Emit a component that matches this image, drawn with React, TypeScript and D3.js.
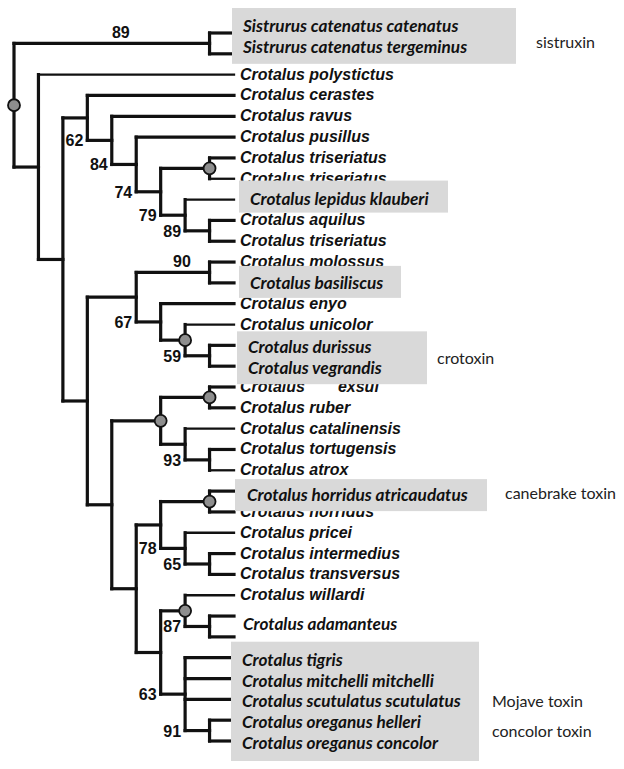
import React from "react";
import * as d3 from "d3";

// ---------- data ----------
const leafNames: (string | null)[] = [
  "Sistrurus catenatus catenatus", "Sistrurus catenatus tergeminus", "Crotalus polystictus",
  "Crotalus cerastes", "Crotalus ravus", "Crotalus pusillus", "Crotalus triseriatus",
  "Crotalus triseriatus", "Crotalus lepidus klauberi", "Crotalus aquilus", "Crotalus triseriatus",
  "Crotalus molossus", "Crotalus basiliscus", "Crotalus enyo", "Crotalus unicolor",
  "Crotalus durissus", "Crotalus vegrandis", "Crotalus exsul", "Crotalus ruber",
  "Crotalus catalinensis", "Crotalus tortugensis", "Crotalus atrox",
  "Crotalus horridus atricaudatus", "Crotalus horridus", "Crotalus pricei",
  "Crotalus intermedius", "Crotalus transversus", "Crotalus willardi", "Crotalus adamanteus", null,
  "Crotalus tigris", "Crotalus mitchelli mitchelli", "Crotalus scutulatus scutulatus",
  "Crotalus oreganus helleri", "Crotalus oreganus concolor",
];
const leafParent = [
  "S", "S", "A", "C", "D", "E", "G", "G", "H", "I", "I", "P", "P", "Q", "R", "Rs", "Rs",
  "U1", "U1", "U2", "U3", "U3", "X1", "X1", "X2", "X3", "X3", "Z", "Z1", "Z1",
  "V", "V", "V", "V1", "V1",
];
// id, parent, level (depth column), bootstrap support, filled circle marker
const clades: [string, string | null, number, string, boolean][] = [
  ["root", null, 0, "", true], ["S", "root", 8, "89", false], ["A", "root", 1, "", false],
  ["B", "A", 2, "", false], ["C", "B", 3, "62", false], ["D", "C", 4, "84", false],
  ["E", "D", 5, "74", false], ["F", "E", 6, "79", false], ["G", "F", 8, "", true],
  ["H", "F", 7, "89", false], ["I", "H", 8, "", false], ["N", "B", 3, "", false],
  ["O", "N", 5, "67", false], ["P", "O", 8, "90", false], ["Q", "O", 6, "", false],
  ["R", "Q", 7, "59", true], ["Rs", "R", 8, "", false], ["T", "N", 4, "", false],
  ["U", "T", 6, "", true], ["U1", "U", 8, "", true], ["U2", "U", 7, "93", false],
  ["U3", "U2", 8, "", false], ["W", "T", 5, "", false], ["X", "W", 6, "78", false],
  ["X1", "X", 8, "", true], ["X2", "X", 7, "65", false], ["X3", "X2", 8, "", false],
  ["Y", "W", 6, "63", false], ["Z", "Y", 7, "87", true], ["Z1", "Z", 8, "", false],
  ["V", "Y", 7, "91", false], ["V1", "V", 8, "", false],
];
const boxedGroups = [[0, 1], [8, 8], [12, 12], [15, 16], [22, 22], [28, 29], [30, 34]];
const toxinNames = ["sistruxin", "crotoxin", "canebrake toxin", "Mojave toxin", "concolor toxin"];
const toxinLeaves = [[0, 1], [15, 16], [22, 22], [32, 32], [33, 34]];
const thinTips = [2, 7, 8, 14, 19, 21, 24, 27];

// ---------- layout ----------
const W = 624, H = 769;
const TIP_LEVEL = 9;
const x = d3.scaleLinear().domain([0, TIP_LEVEL]).range([14, 234]);
const y = d3.scaleLinear().domain([0, leafNames.length - 1]).range([33, 741]);
// per boxed group: left, right, pad top, pad bottom, text x, text dy, draw box
const boxLayout = [
  { x1: 232, x2: 516, pt: 25, pb: 10, tx: 243, dy: -1, box: true },
  { x1: 239, x2: 448, pt: 19, pb: 13, tx: 250, dy: 5, box: true },
  { x1: 239, x2: 401, pt: 17, pb: 15, tx: 250, dy: 6, box: true },
  { x1: 237, x2: 427, pt: 14, pb: 18, tx: 248, dy: 8, box: true },
  { x1: 235, x2: 487, pt: 12, pb: 20, tx: 247, dy: 10, box: true },
  { x1: 0, x2: 0, pt: 0, pb: 0, tx: 243, dy: 4, box: false },
  { x1: 231, x2: 479, pt: 16, pb: 20, tx: 242, dy: 8, box: true },
];
const toxinLayout = [
  { x: 536, dy: 5 }, { x: 437, dy: 8 }, { x: 505, dy: 8 }, { x: 492, dy: 8 }, { x: 492, dy: 6 },
];

type TNode = { id: string; level: number; support: string; circle: boolean; y: number; minLeaf: number; children: { kind: "node" | "leaf"; key: string | number }[] };

function buildTree() {
  const map = new Map<string, TNode>();
  clades.forEach(([id, , level, support, circle]) =>
    map.set(id, { id, level, support, circle, y: 0, minLeaf: Infinity, children: [] }));
  clades.forEach(([id, parent]) => { if (parent) map.get(parent)!.children.push({ kind: "node", key: id }); });
  leafParent.forEach((p, i) => map.get(p)!.children.push({ kind: "leaf", key: i }));
  const visit = (n: TNode): void => {
    const ys: number[] = [];
    n.children.forEach((c) => {
      if (c.kind === "leaf") { ys.push(y(c.key as number)); n.minLeaf = Math.min(n.minLeaf, c.key as number); }
      else { const cn = map.get(c.key as string)!; visit(cn); ys.push(cn.y); n.minLeaf = Math.min(n.minLeaf, cn.minLeaf); }
    });
    n.y = (d3.min(ys)! + d3.max(ys)!) / 2;
  };
  visit(map.get("root")!);
  return map;
}

export default function App() {
  const map = buildTree();
  const nodes = Array.from(map.values());
  const parentOf = new Map<string, string | null>(clades.map((c) => [c[0], c[1]]));
  const boxedSet = new Set<number>();
  boxedGroups.forEach(([a, b]) => { for (let i = a; i <= b; i++) boxedSet.add(i); });

  const lines: JSX.Element[] = [];
  nodes.forEach((n) => {
    const nx = x(n.level);
    const ys = n.children.map((c) => (c.kind === "leaf" ? y(c.key as number) : map.get(c.key as string)!.y));
    lines.push(<line key={"v" + n.id} x1={nx} x2={nx} y1={d3.min(ys)!} y2={d3.max(ys)!} strokeWidth={3.2} />);
    n.children.forEach((c) => {
      if (c.kind === "leaf") {
        const i = c.key as number;
        lines.push(<line key={"l" + i} x1={nx} x2={x(TIP_LEVEL)} y1={y(i)} y2={y(i)} strokeWidth={thinTips.includes(i) ? 2.3 : 3.2} />);
      } else {
        const cn = map.get(c.key as string)!;
        lines.push(<line key={"h" + cn.id} x1={nx} x2={x(cn.level)} y1={cn.y} y2={cn.y} strokeWidth={3.2} />);
      }
    });
  });

  const arial = "'Liberation Sans', Arial, sans-serif";
  const cal = "Lato, 'Open Sans', sans-serif";

  return (
    <svg width={W} height={H} style={{ position: "absolute", left: 0, top: 0, background: "#fff" }}>
      <rect width={W} height={H} fill="#fff" />
      <g stroke="#111" strokeLinecap="square" fill="none">{lines}</g>
      {nodes.filter((n) => n.circle).map((n) => (
        <circle key={"c" + n.id} cx={x(n.level)} cy={n.y} r={6} fill="#8e8e8e" stroke="#111" strokeWidth={1.8} />
      ))}
      <g fontFamily={arial} fontWeight="bold" fontSize={16} fill="#111">
        {nodes.filter((n) => n.support).map((n) => {
          if (n.level === 8) {
            const p = map.get(parentOf.get(n.id)!)!;
            return <text key={"s" + n.id} x={(x(p.level) + x(n.level)) / 2 + 9} y={n.y - 5} textAnchor="middle">{n.support}</text>;
          }
          const ys = n.children.map((c) => (c.kind === "leaf" ? y(c.key as number) : map.get(c.key as string)!.y));
          return <text key={"s" + n.id} x={x(n.level) - 4} y={d3.max(ys)! + 6} textAnchor="end">{n.support}</text>;
        })}
      </g>
      <g fontFamily={arial} fontWeight="bold" fontStyle="italic" fontSize={16} fill="#111">
        {leafNames.map((name, i) => {
          if (!name || boxedSet.has(i)) return null;
          if (name === "Crotalus exsul")
            return <text key={"t" + i} x={240} y={y(i) + 5}>Crotalus<tspan dx={33}>exsul</tspan></text>;
          return <text key={"t" + i} x={240} y={y(i) + 5}>{name}</text>;
        })}
      </g>
      {boxedGroups.map(([a, b], gi) => {
        const L = boxLayout[gi];
        if (!L.box) return null;
        return <rect key={"b" + gi} x={L.x1} y={y(a) - L.pt} width={L.x2 - L.x1} height={y(b) + L.pb - (y(a) - L.pt)} fill="#d9d9d9" />;
      })}
      <g fontFamily={cal} fontWeight="bold" fontStyle="italic" fontSize={17.2} fill="#111">
        {boxedGroups.map(([a, b], gi) => {
          const L = boxLayout[gi];
          const out: JSX.Element[] = [];
          for (let i = a; i <= b; i++) {
            const name = leafNames[i];
            if (!name) continue;
            const next = leafNames[i + 1];
            const yy = next === null && i + 1 <= b ? (y(i) + y(i + 1)) / 2 : y(i);
            out.push(<text key={"bt" + i} x={L.tx} y={yy + L.dy}>{name}</text>);
          }
          return out;
        })}
      </g>
      <g fontFamily={cal} fontSize={16} fill="#222">
        {toxinNames.map((t, i) => {
          const [a, b] = toxinLeaves[i];
          return <text key={"x" + i} x={toxinLayout[i].x} y={(y(a) + y(b)) / 2 + toxinLayout[i].dy}>{t}</text>;
        })}
      </g>
    </svg>
  );
}
